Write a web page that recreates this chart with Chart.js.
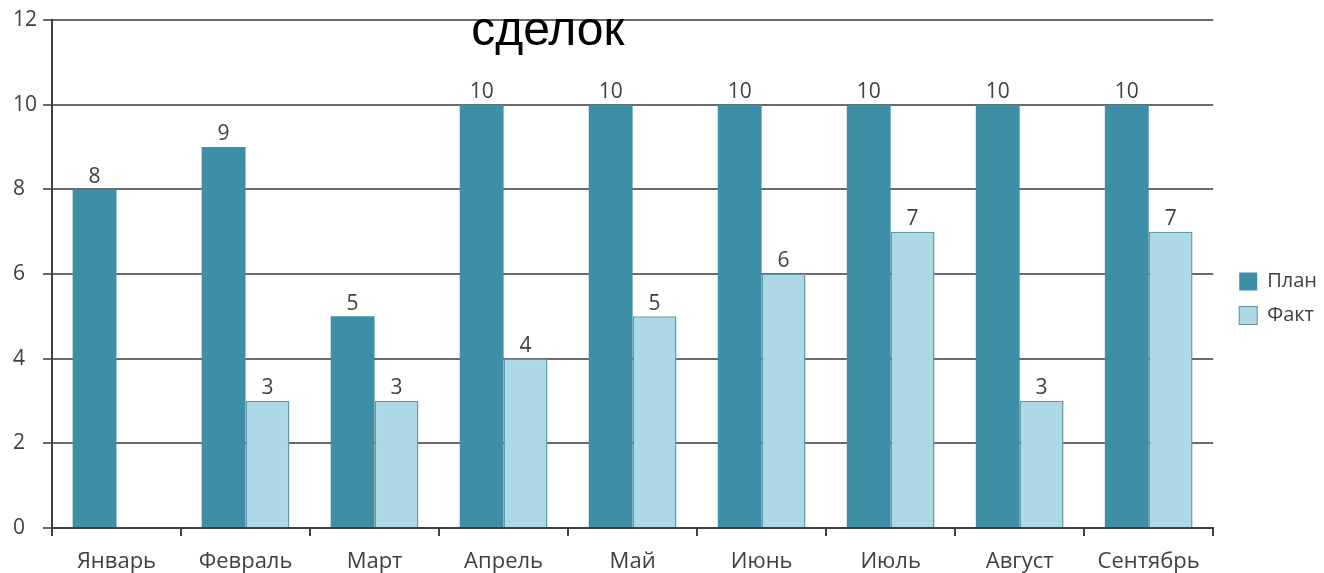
<!DOCTYPE html>
<html lang="ru">
<head>
<meta charset="utf-8">
<title>сделок</title>
<script src="https://cdn.jsdelivr.net/npm/chart.js@4.4.1/dist/chart.umd.min.js"></script>
<style>
  html, body { margin: 0; padding: 0; background: #fff; }
</style>
</head>
<body>
<canvas id="deals" width="1324" height="573"></canvas>
<script>
const months = ['Январь', 'Февраль', 'Март', 'Апрель', 'Май', 'Июнь', 'Июль', 'Август', 'Сентябрь'];
const planValues = [8, 9, 5, 10, 10, 10, 10, 10, 10];
const factValues = [0, 3, 3, 4, 5, 6, 7, 3, 7];
const yTicks = [0, 2, 4, 6, 8, 10, 12];
const chartTitle = 'сделок';

const labelFont = '"Open Sans", "DejaVu Sans", sans-serif';
const textColor = '#404040';

// numbers above each bar (zero bars stay unlabeled)
const valueLabels = {
    id: 'valueLabels',
    afterDatasetsDraw(chart) {
        const ctx = chart.ctx;
        ctx.save();
        ctx.font = '21px ' + labelFont;
        ctx.fillStyle = textColor;
        ctx.textAlign = 'center';
        ctx.textBaseline = 'bottom';
        chart.data.datasets.forEach((ds, i) => {
            chart.getDatasetMeta(i).data.forEach((bar, j) => {
                const v = ds.data[j];
                if (!v) return;
                ctx.fillText(v, bar.x, bar.y - 2);
            });
        });
        ctx.restore();
    }
};

// big caption sitting inside the plot, under the top grid line
const caption = {
    id: 'caption',
    afterDraw(chart) {
        const { ctx, chartArea } = chart;
        ctx.save();
        ctx.font = '48px "Liberation Sans", Arial, sans-serif';
        ctx.fillStyle = '#000';
        ctx.textAlign = 'center';
        ctx.textBaseline = 'alphabetic';
        const x = chartArea.left + (chartArea.right - chartArea.left) * 0.427;
        ctx.fillText(chartTitle, x, chartArea.top + 25);
        ctx.restore();
    }
};

// nudge the legend block a little right/down from its default slot
const legendShift = {
    id: 'legendShift',
    afterLayout(chart) {
        const lg = chart.legend;
        if (!lg) return;
        lg.left += 12;
        lg.right += 12;
        lg.top += 2;
        lg.bottom += 2;
    }
};

new Chart(document.getElementById('deals'), {
    type: 'bar',
    data: {
        labels: months,
        datasets: [
            {
                label: 'План',
                data: planValues,
                backgroundColor: '#3c8fa6',
                borderWidth: 0
            },
            {
                label: 'Факт',
                data: factValues,
                backgroundColor: '#acd9e5',
                borderColor: '#6598a6',
                borderWidth: { top: 1.5, left: 1.5, right: 1.5, bottom: 0 },
                borderSkipped: false
            }
        ]
    },
    options: {
        responsive: false,
        animation: false,
        categoryPercentage: 0.68,
        barPercentage: 1.0,
        layout: { padding: { left: 13, top: 20, right: 9, bottom: 0 } },
        plugins: {
            tooltip: { enabled: false },
            legend: {
                position: 'right',
                align: 'center',
                labels: {
                    boxWidth: 18,
                    boxHeight: 18,
                    padding: 14,
                    color: textColor,
                    font: { family: labelFont, size: 20 }
                }
            }
        },
        scales: {
            x: {
                afterFit(scale) { scale.height = 45; },
                grid: {
                    drawOnChartArea: false,
                    drawTicks: true,
                    tickLength: 8,
                    color: '#404040',
                    lineWidth: 2
                },
                border: { display: true, color: '#404040', width: 2 },
                ticks: {
                    color: textColor,
                    padding: 13,
                    font: { family: labelFont, size: 22 }
                }
            },
            y: {
                min: yTicks[0],
                max: yTicks[yTicks.length - 1],
                afterBuildTicks(axis) {
                    axis.ticks = yTicks.map(v => ({ value: v }));
                },
                afterFit(scale) { scale.width = 39; },
                grid: {
                    color: '#6a6a6a',
                    lineWidth: 2,
                    tickLength: 9
                },
                border: { display: true, color: '#404040', width: 2 },
                ticks: {
                    color: textColor,
                    padding: 4,
                    crossAlign: 'far',
                    font: { family: labelFont, size: 21 }
                }
            }
        }
    },
    plugins: [valueLabels, caption, legendShift]
});
</script>
</body>
</html>
